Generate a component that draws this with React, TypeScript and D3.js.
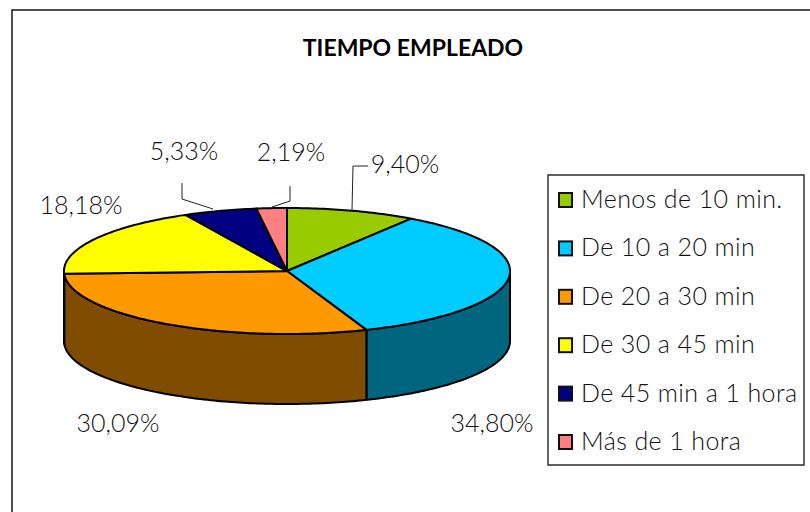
import React from "react";
import * as d3 from "d3";

const categories = [
  "Menos de 10 min.",
  "De 10 a 20 min",
  "De 20 a 30 min",
  "De 30 a 45 min",
  "De 45 min a 1 hora",
  "Más de 1 hora",
];
const values = [9.4, 34.8, 30.09, 18.18, 5.33, 2.19];
const valueLabels = ["9,40%", "34,80%", "30,09%", "18,18%", "5,33%", "2,19%"];
const topColors = ["#99cc00", "#00ccff", "#ff9900", "#ffff00", "#000080", "#ff8080"];
const sideColors = ["#4d6600", "#006680", "#804d00", "#808000", "#000040", "#804040"];

const width = 810;
const height = 512;
const cx = 287;
const cy = 271;
const rx = 223;
const ry = 63;
const depth = 70;
const font = "Lato, 'Open Sans', sans-serif";

const labelPos = [
  { x: 405, y: 173 },
  { x: 492, y: 432 },
  { x: 118, y: 432 },
  { x: 81, y: 214 },
  { x: 184, y: 160 },
  { x: 291, y: 161 },
];

const leaderLines = [
  [[368, 166], [353, 166], [352, 210]],
  null,
  null,
  null,
  [[182, 183], [182, 199], [213, 209]],
  [[290, 186], [290, 201], [272, 207]],
];

const arcs = d3.pie<number>().sort(null).value((d) => d)(values);

const point = (a: number, dy = 0): [number, number] => [
  cx + rx * Math.sin(a),
  cy - ry * Math.cos(a) + dy,
];

const toPath = d3.line();

const rimPoints = (a0: number, a1: number, dy = 0) => {
  const n = Math.max(2, Math.ceil((a1 - a0) * 60));
  return d3.range(n + 1).map((i) => point(a0 + ((a1 - a0) * i) / n, dy));
};

const topPath = (a0: number, a1: number) =>
  toPath([[cx, cy], ...rimPoints(a0, a1)]) + "Z";

const sidePath = (a0: number, a1: number) => {
  const from = Math.max(a0, Math.PI / 2);
  const to = Math.min(a1, (3 * Math.PI) / 2);
  if (from >= to) return null;
  return (
    toPath([...rimPoints(from, to), ...rimPoints(from, to, depth).reverse()]) + "Z"
  );
};

export default function App() {
  const legendY = d3
    .scalePoint<string>()
    .domain(categories)
    .range([200, 442]);

  return (
    <svg
      width={width}
      height={height}
      style={{ position: "absolute", left: 0, top: 0, background: "#fff" }}
    >
      <rect x={12} y={10} width={830} height={540} fill="#fff" stroke="#222" strokeWidth={1.6} />
      <text
        x={413}
        y={56}
        textAnchor="middle"
        fontFamily={font}
        fontWeight={700}
        fontSize={23}
        fill="#000"
      >
        TIEMPO EMPLEADO
      </text>

      {arcs.map((d, i) => {
        const p = sidePath(d.startAngle, d.endAngle);
        return p ? (
          <path key={i} d={p} fill={sideColors[i]} stroke="#000" strokeWidth={2} strokeLinejoin="round" />
        ) : null;
      })}
      {arcs.map((d, i) => (
        <path
          key={i}
          d={topPath(d.startAngle, d.endAngle)}
          fill={topColors[i]}
          stroke="#000"
          strokeWidth={2}
          strokeLinejoin="round"
        />
      ))}

      {leaderLines.map((l, i) =>
        l ? (
          <path key={i} d={toPath(l as [number, number][]) as string} fill="none" stroke="#222" strokeWidth={1} />
        ) : null,
      )}

      {valueLabels.map((t, i) => (
        <text
          key={t}
          x={labelPos[i].x}
          y={labelPos[i].y}
          textAnchor="middle"
          fontFamily={font}
          fontWeight={300}
          fontSize={25}
          fill="#111"
        >
          {t}
        </text>
      ))}

      <rect x={548} y={175} width={256} height={290} fill="#fff" stroke="#222" strokeWidth={1.4} />
      {categories.map((c, i) => (
        <g key={c} transform={`translate(0, ${legendY(c)})`}>
          <rect x={559} y={-7} width={13} height={14} fill={topColors[i]} stroke="#111" strokeWidth={2} />
          <text x={581} y={8} fontFamily={font} fontWeight={300} fontSize={25} letterSpacing={0.4} fill="#111">
            {c}
          </text>
        </g>
      ))}
    </svg>
  );
}
